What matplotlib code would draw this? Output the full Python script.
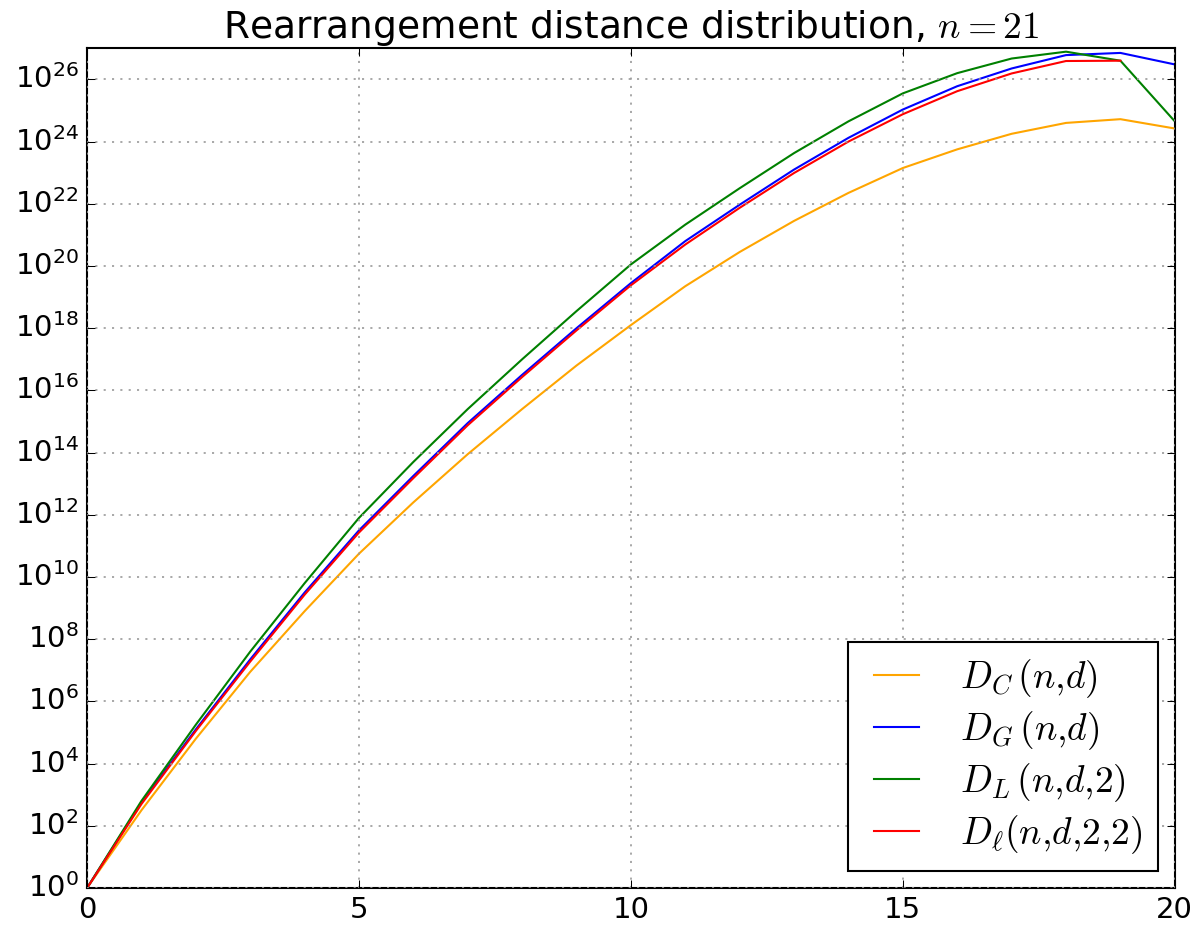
#! /usr/bin/env python

# rearrangement distance distribution for n = 21, log scale.

import matplotlib
matplotlib.use('Agg')

import numpy as np
import matplotlib.pyplot as plt

plt.style.use('classic')
plt.rcParams['mathtext.fontset'] = 'cm'
plt.rcParams['font.family'] = ['DejaVu Sans']

# distance d
d = list(range(21))
d_short = list(range(20))

# log10 of the counts
log_DC = [0, 2.5, 4.8, 6.95, 8.9, 10.75, 12.4, 13.95, 15.4, 16.8, 18.1,
          19.35, 20.45, 21.45, 22.35, 23.15, 23.75, 24.25, 24.6, 24.72, 24.42]
log_DG = [0, 2.75, 5.1, 7.35, 9.5, 11.5, 13.25, 14.95, 16.5, 18.0, 19.45,
          20.8, 21.97, 23.1, 24.12, 25.03, 25.78, 26.35, 26.78, 26.85, 26.48]
log_DL = [0, 2.8, 5.25, 7.6, 9.8, 11.9, 13.7, 15.4, 17.0, 18.55, 20.05,
          21.33, 22.5, 23.63, 24.65, 25.55, 26.2, 26.67, 26.89, 26.6, 24.65]
log_Dl = [0, 2.7, 5.05, 7.28, 9.43, 11.43, 13.18, 14.88, 16.43, 17.93, 19.38,
          20.69, 21.87, 22.99, 24.0, 24.88, 25.62, 26.19, 26.59, 26.6]

labels = [r'$D_C\,(n{,}d)$', r'$D_G\,(n{,}d)$',
          r'$D_L\,(n{,}d{,}2)$', r'$D_\ell(n{,}d{,}2{,}2)$']

fig = plt.figure(figsize=(8, 928 / 150.), dpi=150, facecolor='w')
ax = fig.add_subplot(111)
fig.subplots_adjust(left=0.0725, right=0.979, bottom=0.043, top=0.948)

ax.plot(d, 10 ** np.array(log_DC), color='orange', lw=1.0, label=labels[0])
ax.plot(d, 10 ** np.array(log_DG), color='b', lw=1.0, label=labels[1])
ax.plot(d, 10 ** np.array(log_DL), color='g', lw=1.0, label=labels[2])
ax.plot(d_short, 10 ** np.array(log_Dl), color='r', lw=1.0, label=labels[3])

ax.set_yscale('log')
ax.set_xlim(0, 20)
ax.set_ylim(1, 1e27)
ax.set_xticks([0, 5, 10, 15, 20])
ax.set_yticks([10.0 ** k for k in range(0, 27, 2)])
ax.minorticks_off()
ax.tick_params(labelsize=14)
ax.grid(True, color='0.6', linestyle=':', linewidth=0.8)

plt.title(r'Rearrangement distance distribution, $n=21$', fontsize=18)

leg = plt.legend(loc='lower right', fontsize=18, fancybox=False,
                 handlelength=1.8, labelspacing=0.25, borderaxespad=0.45)
leg.get_frame().set_linewidth(1.0)

fig.savefig('out.png', dpi=150, facecolor='w')
